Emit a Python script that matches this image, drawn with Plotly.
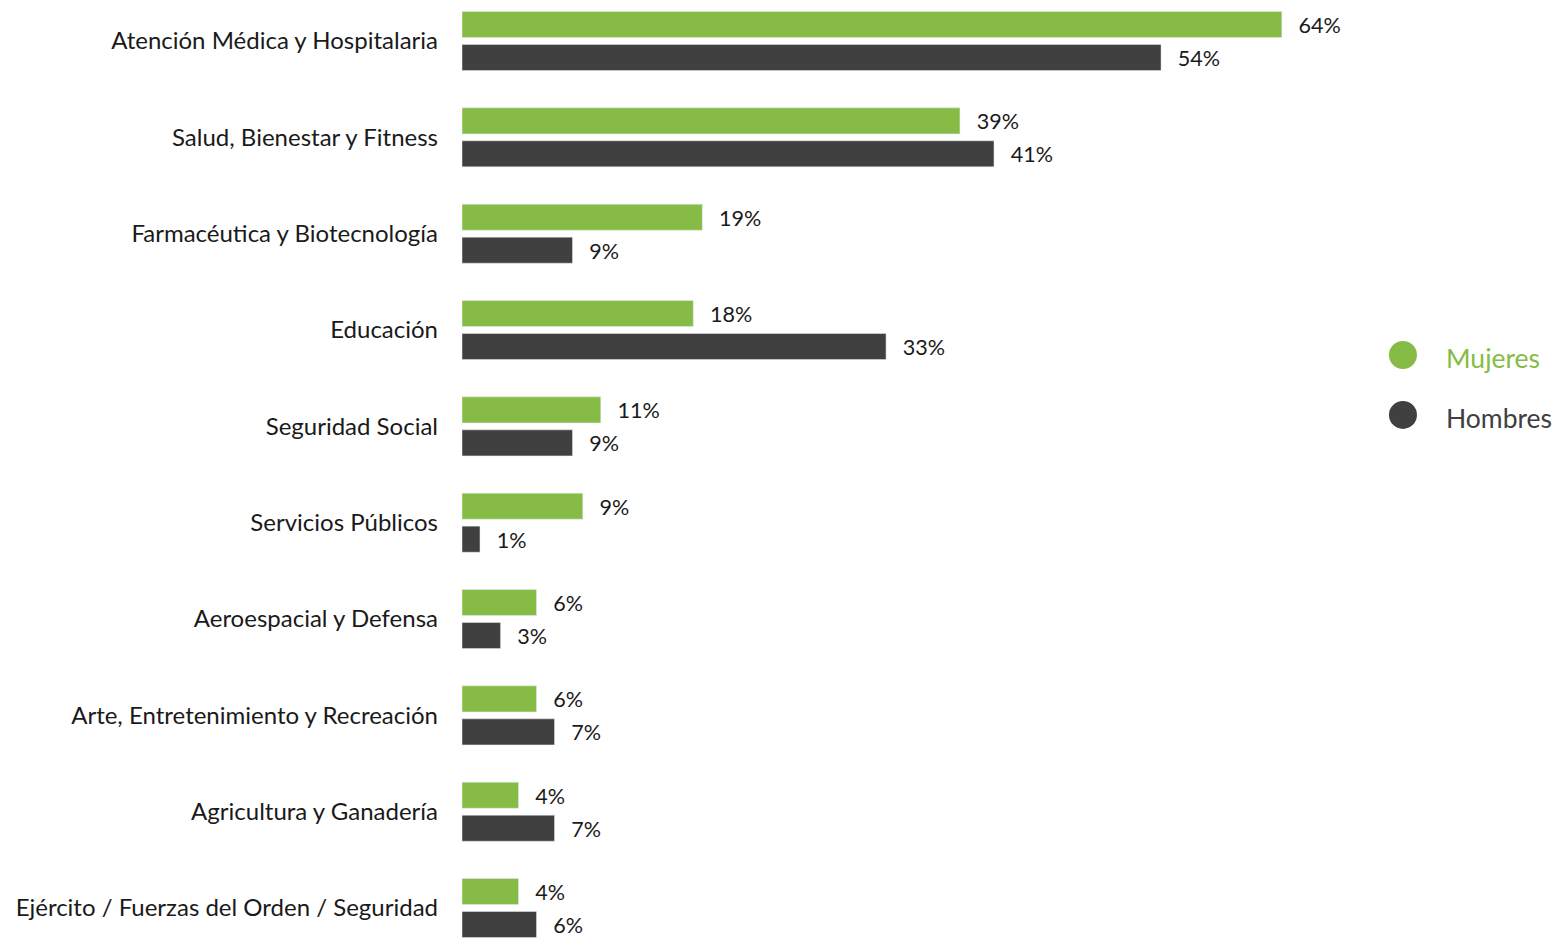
import plotly.graph_objects as go

categories = [
    "Atención Médica y Hospitalaria",
    "Salud, Bienestar y Fitness",
    "Farmacéutica y Biotecnología",
    "Educación",
    "Seguridad Social",
    "Servicios Públicos",
    "Aeroespacial y Defensa",
    "Arte, Entretenimiento y Recreación",
    "Agricultura y Ganadería",
    "Ejército / Fuerzas del Orden / Seguridad",
]
mujeres = [63.8, 38.75, 18.7, 18.0, 10.8, 9.4, 5.8, 5.8, 4.4, 4.4]
hombres = [54.4, 41.4, 8.6, 33.0, 8.6, 1.4, 3.0, 7.2, 7.2, 5.8]
series_names = ["Mujeres", "Hombres"]

GREEN = "#86bc46"
DARK = "#404040"
TEXT = "#1a1a1a"
FONT = "Lato"
colors = [GREEN, DARK]

fig = go.Figure()
for vals, col in zip([mujeres, hombres], colors):
    fig.add_trace(go.Bar(
        y=categories, x=vals, orientation="h", marker_color=col,
        texttemplate="  \u2009%{x:.0f}%", textposition="outside", cliponaxis=False,
        textfont=dict(family=FONT, size=24, color=TEXT), showlegend=False,
    ))

# custom legend (large circles, coloured labels)
legend_y = [0.6269, 0.5624]
for name, col, ly in zip(series_names, colors, legend_y):
    fig.add_shape(
        type="circle", xref="paper", yref="paper",
        xsizemode="pixel", ysizemode="pixel",
        xanchor=1.0363, yanchor=ly,
        x0=-14, x1=14, y0=-14, y1=14,
        fillcolor=col, line=dict(width=0),
    )
    fig.add_annotation(
        x=1.0815, y=ly - 0.003, xref="paper", yref="paper",
        xanchor="left", yanchor="middle", showarrow=False,
        text=name, font=dict(family=FONT, size=26.5, color=col),
    )

fig.update_layout(
    width=1552, height=930,
    margin=dict(l=454, r=190, t=0, b=0),
    paper_bgcolor="white", plot_bgcolor="white",
    barmode="group", bargap=0.315, bargroupgap=0.21,
    font=dict(family=FONT, color=TEXT),
    showlegend=False,
    xaxis=dict(range=[0, 70.66], visible=False, fixedrange=True),
    yaxis=dict(
        type="category", range=[9.311, -0.3426], showgrid=False, showline=False,
        zeroline=False, ticks="", ticklabelstandoff=23,
        tickfont=dict(family=FONT, size=24, color=TEXT),
    ),
)

fig.write_html("out.html")
